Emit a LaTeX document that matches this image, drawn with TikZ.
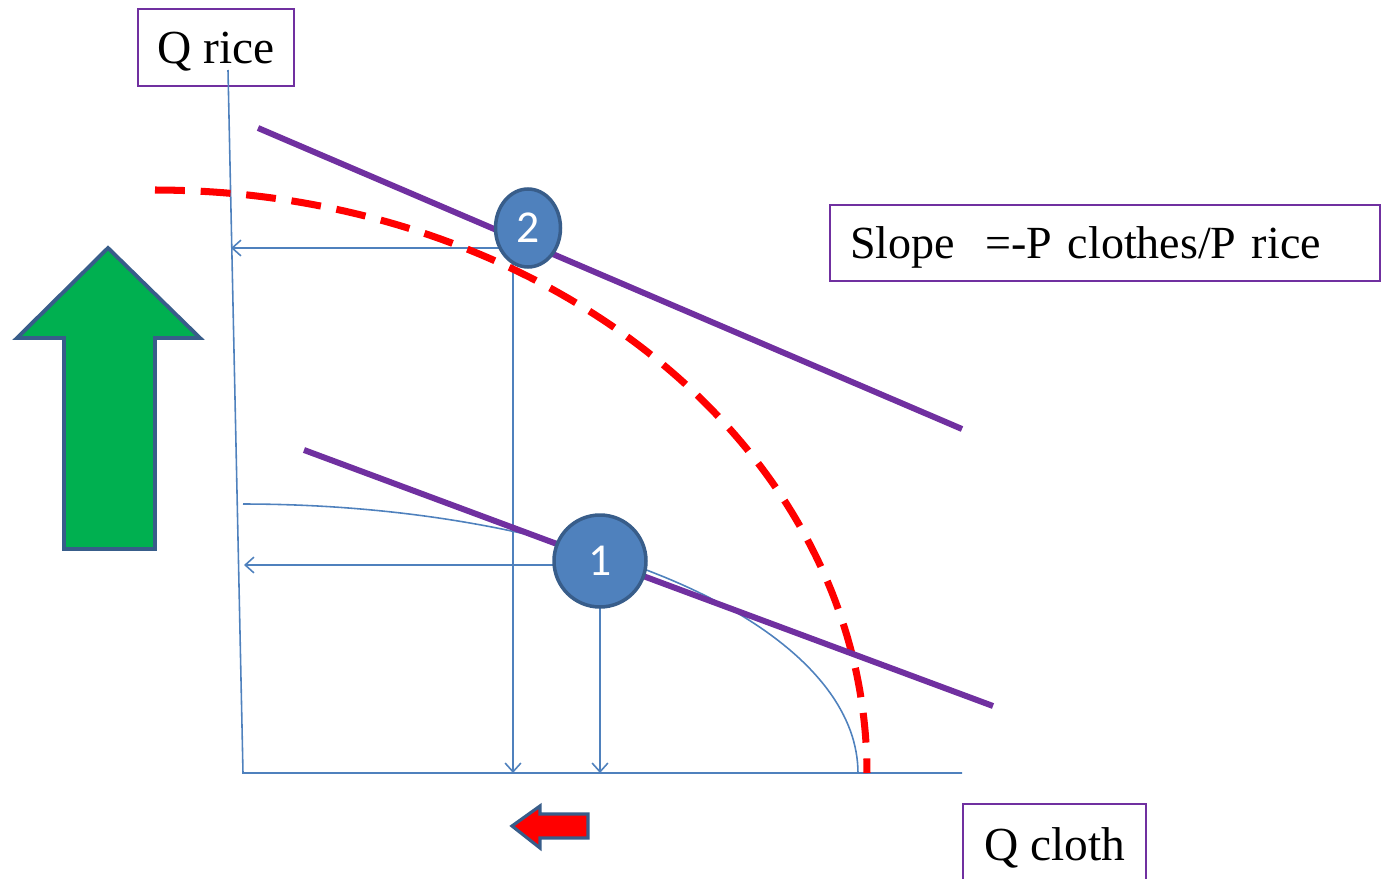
\documentclass[tikz,border=0pt]{standalone}
\usepackage{fontspec}
\setmainfont{Liberation Serif}
\newfontfamily\digitfont{Carlito}
\usetikzlibrary{arrows.meta, shapes.geometric}

\definecolor{axisblue}{HTML}{4F81BD}
\definecolor{ringblue}{HTML}{385D8A}
\definecolor{budgetpurple}{HTML}{7030A0}
\definecolor{arrowgreen}{HTML}{00B050}

\begin{document}
\begin{tikzpicture}[
    x=0.02cm, y=-0.02cm,
    >={Straight Barb[length=5pt, width=9pt]},
    axisline/.style={axisblue, line width=0.9pt},
    budget/.style={budgetpurple, line width=3.4pt},
    ppfdash/.style={red, line width=4pt, dash pattern=on 17pt off 9pt},
    labelbox/.style={draw=budgetpurple, line width=1.1pt, font=\fontsize{27}{30}\selectfont, inner sep=0pt, text height=23pt, text depth=5pt},
    spot/.style={draw=ringblue, fill=axisblue, line width=2pt, text=white, font=\digitfont\fontsize{26}{28}\selectfont, inner sep=0pt},
    block/.style={draw=ringblue, line width=2.2pt, line join=miter}
]
    \useasboundingbox (0,0) rectangle (1384,879);

    % labels
    \node[labelbox, minimum width=3.12cm, minimum height=1.54cm] (qrice) at (216,47.5) {Q rice};
    \node[labelbox, font=\fontsize{26.2}{30}\selectfont, minimum width=11cm, minimum height=1.52cm, text width=10.2cm, align=left, inner xsep=0.4cm] (slope) at (1105,243) {Slope\ \ =-P clothes/P rice};
    \node[labelbox, minimum width=3.66cm, minimum height=1.64cm] (qcloth) at (1054.5,845) {Q cloth};

    % axes
    \coordinate (top) at (228,70);
    \coordinate (origin) at (243,773);
    \coordinate (xend) at (962,773);
    \draw[axisline] (top) -- (origin) -- (xend);

    % production possibility frontiers
    \draw[axisline] plot[domain=90:0, samples=80] ({243+615*cos(\x)},{773-269*sin(\x)});

    % projections
    \coordinate (q2) at (513,248);
    \coordinate (r2) at (231,248);
    \coordinate (c2) at (513,773);
    \coordinate (q1) at (600,565);
    \coordinate (r1) at (244,565);
    \coordinate (c1) at (600,773);
    \draw[axisline, ->] (q2) -- (r2);
    \draw[axisline, ->] (q2) -- (c2);
    \draw[axisline, ->] (q1) -- (r1);
    \draw[axisline, ->] (q1) -- (c1);

    \draw[ppfdash] plot[domain=90:0, samples=100] ({155+712*cos(\x)},{773-583*sin(\x)});

    % price lines
    \coordinate (hi1) at (258,128);
    \coordinate (hi2) at (962,429);
    \coordinate (lo1) at (304,450);
    \coordinate (lo2) at (993,706);
    \draw[budget] (hi1) -- (hi2);
    \draw[budget] (lo1) -- (lo2);

    % equilibria
    \node[spot, ellipse, minimum width=1.3cm, minimum height=1.56cm] (e2) at (528,228) {2};
    \node[spot, circle, minimum size=1.84cm] (e1) at (600,561) {1};

    % shifts
    \draw[block, fill=arrowgreen] (108,248) -- (200,338) -- (155,338) -- (155,549) -- (64,549) -- (64,338) -- (17,338) -- cycle;
    \draw[block, fill=red, line width=1.8pt] (512,826) -- (540,806) -- (540,814) -- (588,814) -- (588,838) -- (540,838) -- (540,848) -- cycle;
\end{tikzpicture}
\end{document}
